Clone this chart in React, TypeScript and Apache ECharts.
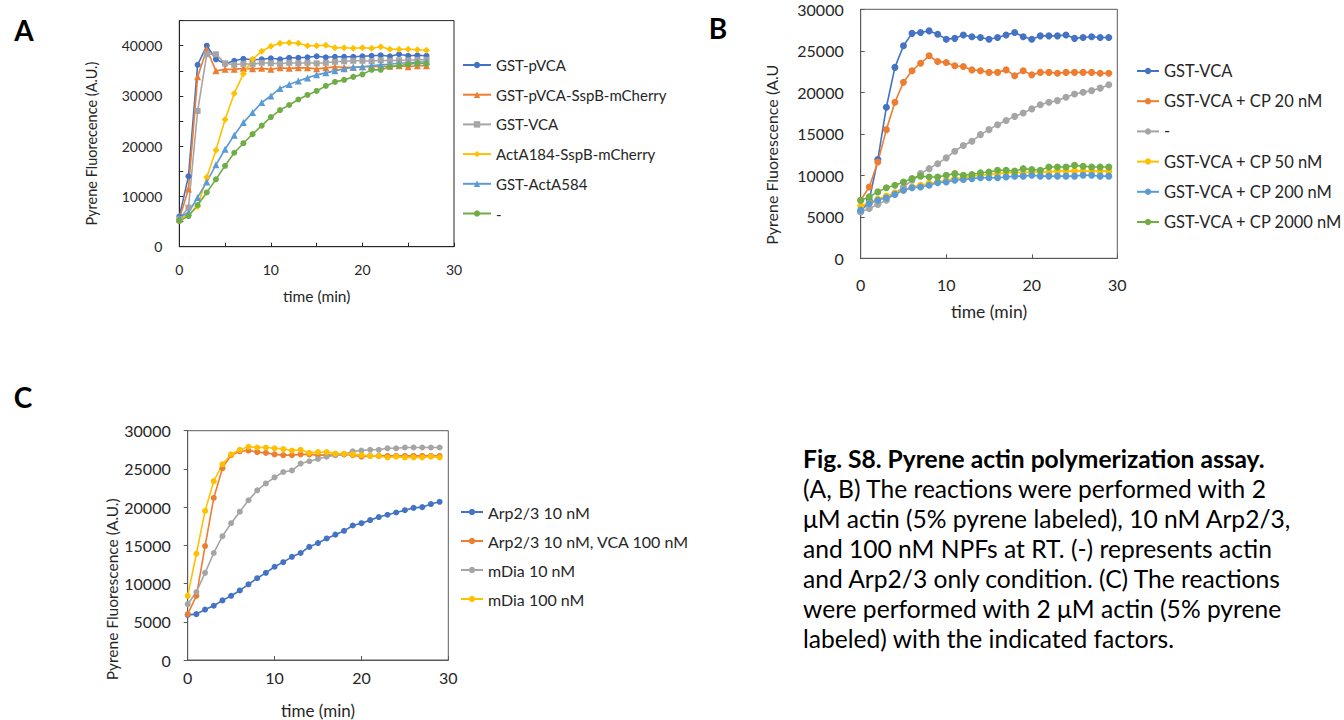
import React, { useEffect, useRef } from "react";
import * as echarts from "echarts";

// ---------- Panel A ----------
const A_TIME = [0, 1, 2, 3, 4, 5, 6, 7, 8, 9, 10, 11, 12, 13, 14, 15, 16, 17, 18, 19, 20, 21, 22, 23, 24, 25, 26, 27];
const A_LABELS = ["GST-pVCA", "GST-pVCA-SspB-mCherry", "GST-VCA", "ActA184-SspB-mCherry", "GST-ActA584", "-"];
const A_PVCA = [6000, 14000, 36200, 40000, 37300, 36400, 37000, 37400, 37200, 37300, 37500, 37300, 37600, 37600, 37700, 37900, 37700, 37800, 37800, 37800, 37900, 38000, 38100, 37900, 38300, 38000, 38100, 38000];
const A_PVCA_SSPB = [5500, 11500, 33800, 39300, 35000, 35300, 35300, 35500, 35400, 35500, 35300, 35600, 35500, 35600, 35600, 35400, 35600, 35800, 35700, 35700, 35800, 35800, 35900, 35900, 36000, 35800, 36000, 36000];
const A_VCA = [5500, 7800, 27000, 38300, 38300, 36500, 36200, 36400, 36300, 36600, 36500, 36400, 36600, 36500, 36600, 36500, 36600, 36800, 36900, 37000, 37000, 36900, 37100, 37000, 37100, 37100, 37200, 37200];
const A_ACTA184 = [5500, 6300, 8000, 13800, 19200, 25300, 30500, 34400, 37300, 38900, 39900, 40500, 40600, 40500, 40000, 40000, 40100, 39600, 39600, 39500, 39600, 39500, 39800, 39300, 39300, 39300, 39200, 39100];
const A_ACTA584 = [5800, 6800, 9800, 12900, 16300, 19400, 22200, 24700, 26700, 28700, 30000, 31500, 32300, 33000, 33600, 34200, 34600, 35000, 35400, 35700, 35800, 36000, 36200, 36300, 36500, 36600, 36700, 36800];
const A_NONE = [5100, 6100, 8300, 10800, 13400, 16100, 18700, 20600, 22400, 24100, 25800, 27200, 28200, 29300, 30200, 31000, 32000, 32800, 33200, 33800, 34300, 35200, 35200, 35800, 36000, 36300, 36500, 36400];

// ---------- Panel B ----------
const B_TIME = [0, 1, 2, 3, 4, 5, 6, 7, 8, 9, 10, 11, 12, 13, 14, 15, 16, 17, 18, 19, 20, 21, 22, 23, 24, 25, 26, 27, 28, 29];
const B_LABELS = ["GST-VCA", "GST-VCA + CP 20 nM", "-", "GST-VCA + CP 50 nM", "GST-VCA + CP 200 nM", "GST-VCA + CP 2000 nM"];
const B_VCA = [5600, 7000, 11900, 18200, 23000, 25600, 27100, 27200, 27400, 27000, 26400, 26500, 26900, 26700, 26600, 26400, 26600, 26900, 27200, 26700, 26400, 26800, 26800, 26800, 26900, 26500, 26600, 26700, 26600, 26600];
const B_CP20 = [7000, 8600, 11600, 15500, 18800, 21200, 22600, 23500, 24400, 23700, 23600, 23200, 23100, 22700, 22600, 22400, 22400, 22700, 22000, 22600, 22100, 22400, 22400, 22300, 22400, 22400, 22400, 22400, 22300, 22300];
const B_NONE = [5600, 6000, 6500, 7000, 7800, 8600, 9400, 10200, 10800, 11400, 12100, 12900, 13600, 14100, 14900, 15500, 16100, 16600, 17100, 17500, 18000, 18500, 18800, 19000, 19400, 19800, 20000, 20200, 20500, 20900];
const B_CP50 = [6300, 6700, 7100, 7500, 7900, 8200, 8600, 8800, 9000, 9200, 9400, 9600, 9700, 9900, 10000, 10100, 10200, 10300, 10300, 10300, 10400, 10400, 10400, 10500, 10500, 10500, 10500, 10500, 10500, 10500];
const B_CP200 = [5800, 6600, 7000, 7300, 7700, 8200, 8500, 8600, 8800, 9100, 9200, 9400, 9500, 9600, 9700, 9700, 9700, 9800, 9900, 9900, 10000, 9900, 9900, 9900, 9900, 9900, 10000, 10000, 9900, 9900];
const B_CP2000 = [7000, 7400, 8000, 8500, 8800, 9200, 9600, 9900, 9800, 9800, 10000, 10200, 10000, 10100, 10300, 10400, 10600, 10600, 10500, 10800, 10700, 10600, 11000, 11000, 11000, 11200, 11100, 11000, 11000, 11000];

// ---------- Panel C ----------
const C_TIME = [0, 1, 2, 3, 4, 5, 6, 7, 8, 9, 10, 11, 12, 13, 14, 15, 16, 17, 18, 19, 20, 21, 22, 23, 24, 25, 26, 27, 28, 29];
const C_LABELS = ["Arp2/3 10 nM", "Arp2/3 10 nM, VCA 100 nM", "mDia 10 nM", "mDia 100 nM"];
const C_ARP = [5900, 6000, 6600, 7100, 7800, 8400, 9100, 9900, 10700, 11400, 12200, 12800, 13500, 14000, 14800, 15300, 15900, 16400, 16900, 17600, 17900, 18300, 18700, 19000, 19300, 19600, 19900, 20000, 20400, 20700];
const C_ARP_VCA = [6000, 8400, 14900, 21200, 25100, 26800, 27300, 27400, 27200, 27100, 26900, 26800, 26800, 26900, 26900, 26800, 26800, 26800, 26900, 26800, 26600, 26700, 26700, 26700, 26700, 26700, 26700, 26700, 26700, 26700];
const C_MDIA10 = [7300, 8900, 11400, 14000, 16200, 17900, 19400, 20900, 22200, 23100, 23900, 24600, 24800, 25700, 26000, 26300, 26600, 26800, 26900, 27300, 27400, 27500, 27500, 27700, 27700, 27800, 27800, 27800, 27800, 27800];
const C_MDIA100 = [8400, 13900, 19500, 23400, 25600, 26900, 27500, 27900, 27800, 27800, 27700, 27600, 27400, 27500, 27100, 27200, 27200, 27000, 27000, 26900, 26800, 26700, 26700, 26500, 26600, 26500, 26500, 26500, 26600, 26500];

const CAPTION_TITLE = "Fig. S8. Pyrene actin polymerization assay.";
const CAPTION_LINES = [
  "(A, B) The reactions were performed with 2",
  "\u03bcM actin (5% pyrene labeled), 10 nM Arp2/3,",
  "and 100 nM NPFs at RT. (-) represents actin",
  "and Arp2/3 only condition. (C) The reactions",
  "were performed with 2 \u03bcM actin (5% pyrene",
  "labeled) with the indicated factors.",
];

const FONT = "Lato, 'Open Sans', sans-serif";
const BLUE = "#4472C4";
const ORANGE = "#ED7D31";
const GRAY = "#A5A5A5";
const YELLOW = "#FFC000";
const LBLUE = "#5B9BD5";
const GREEN = "#70AD47";

function pairs(t: number[], v: number[]) {
  return t.map((x, i) => [x, v[i]]);
}

export default function App() {
  const ref = useRef<HTMLDivElement>(null);
  useEffect(() => {
    document.body.style.margin = "0";
    const chart = echarts.init(ref.current!, undefined, { renderer: "svg" });

    const mk = (panel: string, idx: number, label: string, t: number[], v: number[], color: string, symbol: string, size: number) => ({
      type: "line",
      name: panel + "|" + label,
      xAxisIndex: idx,
      yAxisIndex: idx,
      data: pairs(t, v),
      symbol,
      symbolSize: size,
      showSymbol: true,
      lineStyle: { color, width: 1.6 },
      itemStyle: { color },
      emphasis: { disabled: true },
      z: 2,
    });

    const series = [
      mk("A", 0, A_LABELS[0], A_TIME, A_PVCA, BLUE, "circle", 6),
      mk("A", 0, A_LABELS[1], A_TIME, A_PVCA_SSPB, ORANGE, "triangle", 7),
      mk("A", 0, A_LABELS[2], A_TIME, A_VCA, GRAY, "rect", 6),
      mk("A", 0, A_LABELS[3], A_TIME, A_ACTA184, YELLOW, "diamond", 7),
      mk("A", 0, A_LABELS[4], A_TIME, A_ACTA584, LBLUE, "triangle", 7),
      mk("A", 0, A_LABELS[5], A_TIME, A_NONE, GREEN, "circle", 6),
      mk("B", 1, B_LABELS[0], B_TIME, B_VCA, BLUE, "circle", 7),
      mk("B", 1, B_LABELS[1], B_TIME, B_CP20, ORANGE, "circle", 7),
      mk("B", 1, B_LABELS[2], B_TIME, B_NONE, GRAY, "circle", 7),
      mk("B", 1, B_LABELS[3], B_TIME, B_CP50, YELLOW, "circle", 7),
      mk("B", 1, B_LABELS[4], B_TIME, B_CP200, LBLUE, "circle", 7),
      mk("B", 1, B_LABELS[5], B_TIME, B_CP2000, GREEN, "circle", 7),
      mk("C", 2, C_LABELS[0], C_TIME, C_ARP, BLUE, "circle", 6),
      mk("C", 2, C_LABELS[1], C_TIME, C_ARP_VCA, ORANGE, "circle", 6),
      mk("C", 2, C_LABELS[2], C_TIME, C_MDIA10, GRAY, "circle", 6),
      mk("C", 2, C_LABELS[3], C_TIME, C_MDIA100, YELLOW, "circle", 6),
    ];

    const xAx = (idx: number, interval: number, labelEvery: number, fs: number, nameFs: number, gap: number, nameGap: number, color: string, tickInside: boolean) => ({
      type: "value",
      gridIndex: idx,
      min: 0,
      max: 30,
      interval,
      name: "time (min)",
      nameLocation: "middle",
      nameGap,
      nameTextStyle: { fontFamily: FONT, fontSize: nameFs, color: "#262626" },
      axisLine: { show: true, lineStyle: { color, width: 1 } },
      axisTick: { show: true, inside: tickInside, length: 4, lineStyle: { color } },
      axisLabel: {
        fontFamily: FONT,
        fontSize: fs,
        color: "#262626",
        margin: gap,
        showMaxLabel: true,
        formatter: (v: number) => (v % labelEvery === 0 ? String(v) : ""),
      },
      splitLine: { show: false },
    });

    const yAx = (idx: number, max: number, labelEvery: number, labelMax: number, fs: number, name: string, nameFs: number, nameGap: number, shift: number, color: string, tickInside: boolean) => ({
      type: "value",
      gridIndex: idx,
      min: 0,
      max,
      interval: 5000,
      name,
      nameLocation: "middle",
      nameGap,
      nameTextStyle: { fontFamily: FONT, fontSize: nameFs, color: "#262626", padding: [0, shift * 2, 0, 0] },
      axisLine: { show: true, lineStyle: { color, width: 1 } },
      axisTick: { show: true, inside: tickInside, length: 4, lineStyle: { color } },
      axisLabel: {
        fontFamily: FONT,
        fontSize: fs,
        color: "#262626",
        margin: 17,
        formatter: (v: number) => (v % labelEvery === 0 && v <= labelMax ? String(v) : ""),
      },
      splitLine: { show: false },
    });

    const legend = (panel: string, labels: string[], left: number, top: number, itemWidth: number, fs: number, spacing: number) => ({
      orient: "vertical",
      left,
      top,
      padding: 0,
      itemWidth,
      itemHeight: 8,
      itemGap: spacing - 18,
      selectedMode: false,
      data: labels.map((l) => panel + "|" + l),
      formatter: (n: string) => n.slice(2),
      textStyle: { fontFamily: FONT, fontSize: fs, color: "#262626", lineHeight: 18 },
    });

    const graphic: any[] = [
      { type: "text", x: 24, y: 30, style: { text: "A", fontFamily: FONT, fontSize: 28, fontWeight: "bold", fill: "#000", align: "center", verticalAlign: "middle" } },
      { type: "text", x: 718, y: 28, style: { text: "B", fontFamily: FONT, fontSize: 28, fontWeight: "bold", fill: "#000", align: "center", verticalAlign: "middle" } },
      { type: "text", x: 23, y: 397, style: { text: "C", fontFamily: FONT, fontSize: 28, fontWeight: "bold", fill: "#000", align: "center", verticalAlign: "middle" } },
      { type: "text", x: 803, y: 458, style: { text: CAPTION_TITLE, fontFamily: FONT, fontSize: 24.6, fontWeight: "bold", fill: "#000", align: "left", verticalAlign: "middle" } },
    ];
    CAPTION_LINES.forEach((line, i) => {
      graphic.push({ type: "text", x: 803, y: 488 + i * 30, style: { text: line, fontFamily: FONT, fontSize: 24.6, fill: "#000", align: "left", verticalAlign: "middle" } });
    });

    chart.setOption({
      animation: false,
      backgroundColor: "#ffffff",
      grid: [
        { left: 179.3, top: 20.6, width: 274.7, height: 226.1, show: true, borderColor: "#262626", borderWidth: 1, backgroundColor: "transparent" },
        { left: 860.7, top: 9.3, width: 256.6, height: 249, show: true, borderColor: "#595959", borderWidth: 1, backgroundColor: "transparent" },
        { left: 187.7, top: 430.7, width: 260.6, height: 231.6, show: true, borderColor: "#595959", borderWidth: 1, backgroundColor: "transparent" },
      ],
      xAxis: [
        xAx(0, 5, 10, 14, 15.5, 16, 41, "#262626", true),
        xAx(1, 10, 10, 16, 17.5, 18, 44, "#595959", true),
        xAx(2, 10, 10, 16, 17, 9, 42, "#595959", true),
      ],
      yAxis: [
        yAx(0, 45000, 10000, 40000, 14, "Pyrene Fluorecence (A.U.)", 14.5, 80, 10, "#262626", true),
        yAx(1, 30000, 5000, 30000, 16, "Pyrene Fluorescence (A.U", 16, 81, 21, "#595959", true),
        yAx(2, 30000, 5000, 30000, 16, "Pyrene Fluorescence (A.U.)", 15.5, 68, 44, "#595959", false),
      ],
      legend: [
        legend("A", A_LABELS, 462, 56, 28, 15, 29.7),
        legend("B", B_LABELS, 1136, 62, 22, 16.5, 30.2),
        legend("C", C_LABELS, 460, 503, 22, 16, 29),
      ],
      series,
      graphic,
    });
    return () => chart.dispose();
  }, []);
  return <div ref={ref} style={{ width: 1344, height: 720 }} />;
}
